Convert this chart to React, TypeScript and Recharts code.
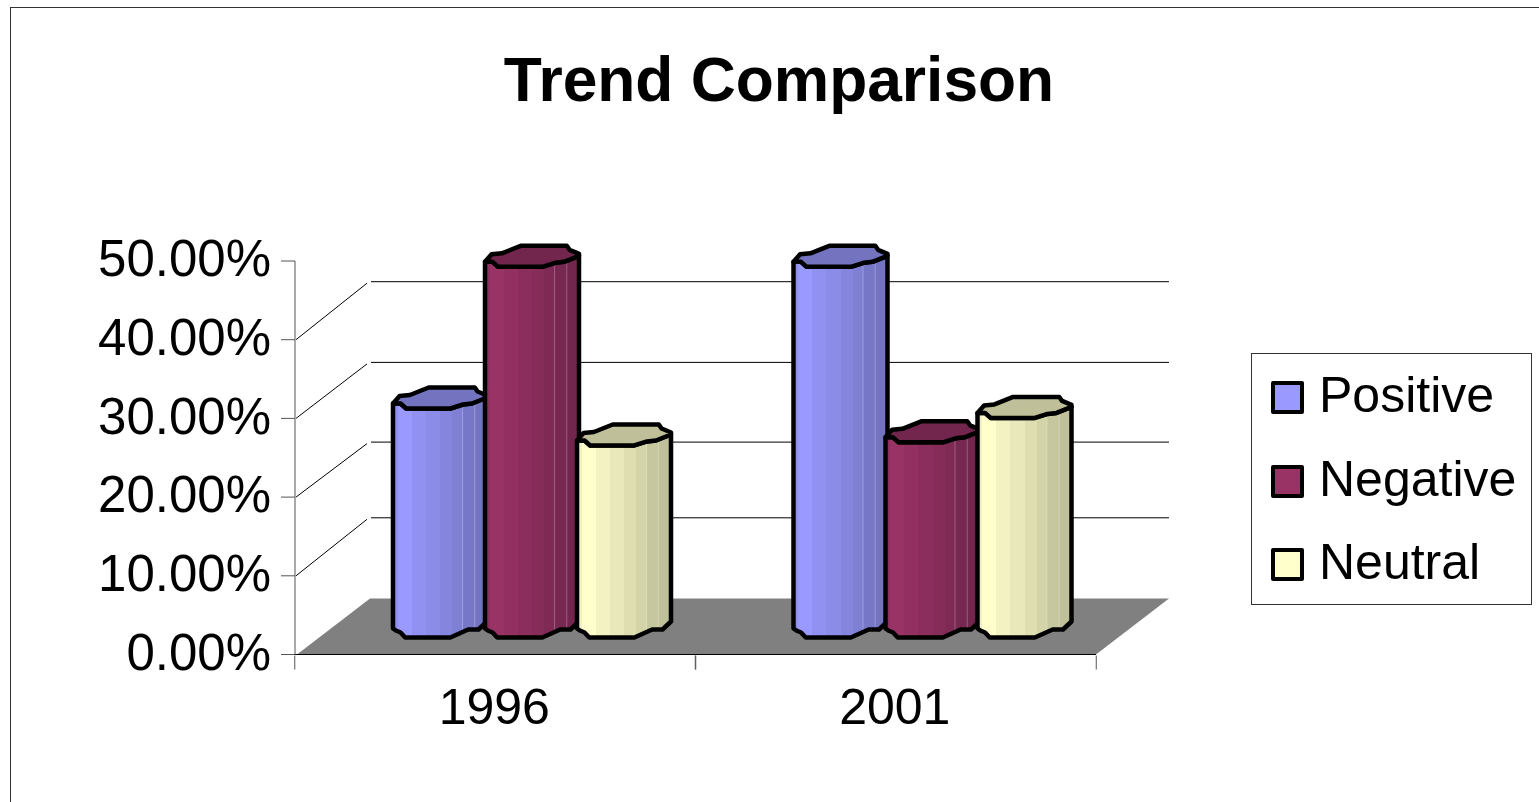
import { BarChart, Bar, XAxis, YAxis, Legend, ReferenceLine } from 'recharts'

// values (percent)
const categories = ['1996', '2001']
const positive = [29.1, 47.1]
const negative = [47.1, 24.8]
const neutral = [24.4, 27.9]
const yTicks = [0, 10, 20, 30, 40, 50]
const wallTicks = [10, 20, 30, 40]

const rows = categories.map((year, i) => ({
  year,
  Positive: positive[i],
  Negative: negative[i],
  Neutral: neutral[i],
}))

const seriesList = [
  { name: 'Positive', color: '#9999FF' },
  { name: 'Negative', color: '#993366' },
  { name: 'Neutral', color: '#FFFFCC' },
]

const FONT = '"Liberation Sans", Arial, sans-serif'

// fake 3D: how far the bars and the back wall sit behind the axis plane
const BAR_DX = 36
const BAR_DY = -17
const WALL_DX = 75
const FLOOR_LIFT = 56
const wallLift: Record<number, number> = { 10: 58, 20: 55, 30: 56, 40: 58 }

// [fraction of bar width, px above the front line]
const frontEdge = [[0, 5], [0.08, 5], [0.14, 0], [0.61, 0], [0.745, 4], [0.84, 5], [1, 11]]
const backEdge = [[0, 5], [0.07, 12.5], [0.18, 13.5], [0.38, 21], [0.87, 21], [0.9, 17], [1, 13]]
const bottomEdge = [[0, 9], [0.03, 7], [0.08, 5], [0.13, 0], [0.61, 0], [0.8, 8], [0.91, 8], [1, 16]]

// stepped shading across the tube
const bands = [
  [0, 0.05, 0.94],
  [0.05, 0.2, 1],
  [0.2, 0.35, 0.95],
  [0.35, 0.5, 0.91],
  [0.5, 0.63, 0.87],
  [0.63, 0.74, 0.83],
  [0.74, 0.87, 0.78],
  [0.87, 1, 0.75],
]

const shade = (hex: string, f: number) => {
  const n = parseInt(hex.slice(1), 16)
  const c = (v: number) => Math.round(v * f)
  return `rgb(${c((n >> 16) & 255)},${c((n >> 8) & 255)},${c(n & 255)})`
}

const Tube = (props: any) => {
  const { x, y, width, height, fill, gradId } = props
  const left = x + BAR_DX
  const top = y + BAR_DY
  const base = y + height + BAR_DY
  const w = width + 2
  const at = (edge: number[][], line: number) =>
    edge.map(([f, up]) => `${left + f * w},${line - up}`)
  const body =
    'M' + at(frontEdge, top).join(' L') + ' L' + at(bottomEdge, base).reverse().join(' L') + ' Z'
  const cap =
    'M' + at(backEdge, top).join(' L') + ' L' + at(frontEdge, top).reverse().join(' L') + ' Z'
  return (
    <g>
      <path d={body} fill={`url(#${gradId})`} />
      {[0.74, 0.87].map((f) => (
        <line
          key={f}
          x1={left + f * w}
          x2={left + f * w}
          y1={top - 4}
          y2={base - 6}
          stroke="#fff"
          strokeOpacity={0.25}
        />
      ))}
      <path d={body} fill="none" stroke="#000" strokeWidth={4.5} strokeLinejoin="round" />
      <path d={cap} fill={shade(fill, 0.75)} stroke="#000" strokeWidth={4.5} strokeLinejoin="round" />
    </g>
  )
}

const Floor = (props: any) => {
  const { x1, x2, y1 } = props
  const points = [
    [x1 + 2, y1],
    [x1 + WALL_DX, y1 - FLOOR_LIFT],
    [x2 + WALL_DX - 2, y1 - FLOOR_LIFT],
    [x2, y1],
  ]
  return <polygon points={points.map((p) => p.join(',')).join(' ')} fill="#808080" />
}

const wallLine = (tick: number) => (props: any) => {
  const { x1, x2, y1 } = props
  const back = y1 - wallLift[tick]
  return (
    <g stroke="#000" strokeWidth={1} fill="none">
      <line x1={x1 + 1} y1={y1} x2={x1 + 72} y2={back + 1.5} />
      <line x1={x1 + WALL_DX + 1} y1={back} x2={x2 + WALL_DX - 2} y2={back} />
    </g>
  )
}

// tick marks sit on the category edges, not under the labels
const YearTick = (props: any) => {
  const { x, y, payload } = props
  const half = 200.5
  return (
    <g>
      <line x1={x - half} x2={x - half} y1={y - 7} y2={y + 7} stroke="#555" />
      <line x1={x + half} x2={x + half} y1={y - 7} y2={y + 7} stroke="#555" />
      <text x={x - 1} y={y + 61} textAnchor="middle" fontSize={50} fontFamily={FONT} fill="#000">
        {payload.value}
      </text>
    </g>
  )
}

const LegendBox = ({ payload }: any) => (
  <div
    style={{
      position: 'relative',
      width: 279,
      height: 250,
      background: '#fff',
      border: '1px solid #333',
      fontFamily: FONT,
      fontSize: 50,
      color: '#000',
    }}
  >
    {(payload || []).map((item: any, i: number) => (
      <div key={item.value}>
        <div
          style={{
            position: 'absolute',
            left: 19,
            top: 27 + i * 83.5,
            width: 25,
            height: 25,
            background: item.color,
            border: '4px solid #000',
            borderRadius: 2,
          }}
        />
        <div style={{ position: 'absolute', left: 67, top: 12 + i * 83.5, lineHeight: '58px' }}>
          {item.value}
        </div>
      </div>
    ))}
  </div>
)

export default function App() {
  return (
    <div
      style={{
        position: 'absolute',
        left: 0,
        top: 0,
        width: 1539,
        height: 802,
        overflow: 'hidden',
        background: '#fff',
      }}
    >
      <div
        style={{
          position: 'absolute',
          left: 10,
          top: 7,
          width: 1700,
          height: 1000,
          border: '1px solid #333',
        }}
      />
      <div
        style={{
          position: 'absolute',
          left: 0,
          width: 1558,
          top: 44,
          textAlign: 'center',
          fontFamily: FONT,
          fontWeight: 700,
          fontSize: 62.3,
          lineHeight: '72px',
          color: '#000',
        }}
      >
        Trend Comparison
      </div>
      <div style={{ position: 'absolute', left: 0, top: 0 }}>
        <BarChart
          width={1539}
          height={802}
          data={rows}
          barGap={0}
          barCategoryGap={62}
          margin={{ top: 261, right: 443, bottom: 0, left: 0 }}
        >
          <defs>
            {seriesList.map((s) => (
              <linearGradient key={s.name} id={`tube-${s.name}`} x1="0" x2="1" y1="0" y2="0">
                {bands.flatMap(([from, to, f]) => [
                  <stop key={`${from}a`} offset={from} stopColor={shade(s.color, f)} />,
                  <stop key={`${from}b`} offset={to} stopColor={shade(s.color, f)} />,
                ])}
              </linearGradient>
            ))}
          </defs>
          <XAxis
            dataKey="year"
            height={147.5}
            interval={0}
            stroke="#000"
            tickLine={false}
            tick={<YearTick />}
          />
          <YAxis
            width={295}
            domain={[0, 50]}
            ticks={yTicks}
            stroke="#555"
            tickSize={14}
            tickMargin={10}
            tickFormatter={(v: number) => `${v.toFixed(2)}%`}
            tick={{ fontSize: 51, fontFamily: FONT, fill: '#000', dy: -3 }}
          />
          <ReferenceLine y={0} zIndex={60} shape={<Floor />} />
          {wallTicks.map((t) => (
            <ReferenceLine key={t} y={t} zIndex={50} shape={wallLine(t)} />
          ))}
          {seriesList.map((s) => (
            <Bar
              key={s.name}
              dataKey={s.name}
              name={s.name}
              fill={s.color}
              isAnimationActive={false}
              shape={(p: any) => <Tube {...p} gradId={`tube-${s.name}`} />}
            />
          ))}
          <Legend
            layout="vertical"
            align="center"
            verticalAlign="middle"
            itemSorter={null}
            content={<LegendBox />}
            wrapperStyle={{ position: 'absolute', left: 1251, top: 353, width: 281, height: 252 }}
          />
        </BarChart>
      </div>
    </div>
  )
}
